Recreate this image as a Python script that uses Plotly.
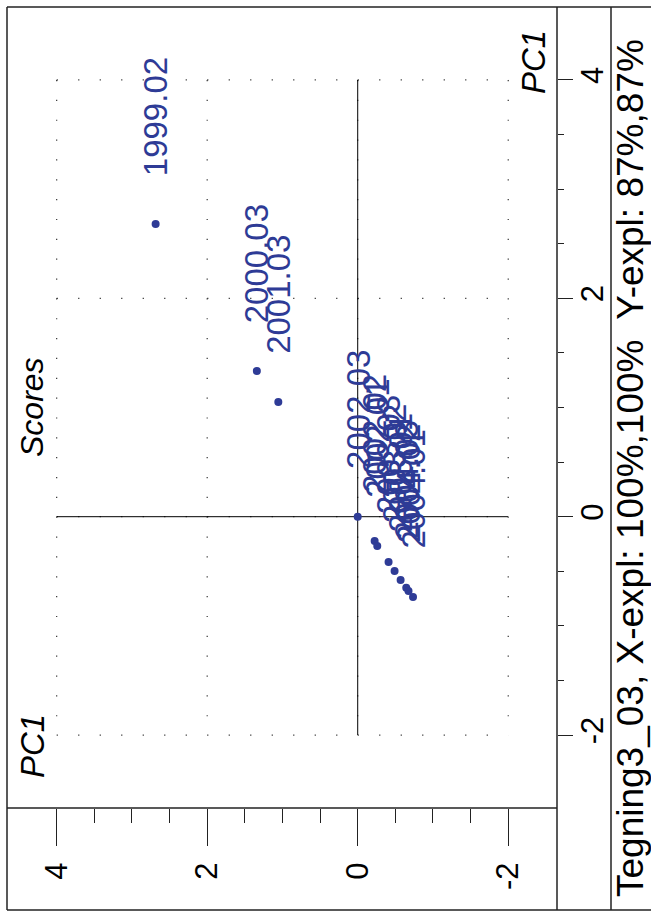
import plotly.graph_objects as go

# ---------------- data ----------------
sample_labels = ["1999.02", "2000.03", "2001.03", "2002.03",
                 "2002.02", "2002.01", "2003.03", "2003.02",
                 "2003.01", "2004.03", "2004.02", "2004.01"]
pc1_x = [2.685, 1.34, 1.055, 0.0,
         -0.225, -0.26, -0.41, -0.49, -0.57, -0.645, -0.675, -0.735]
pc1_y = [2.68, 1.335, 1.05, 0.0,
         -0.222, -0.268, -0.415, -0.497, -0.58, -0.65, -0.68, -0.735]

major_ticks = [4, 2, 0, -2]
major_text = ["4", "2", "0", "-2"]
minor_ticks = [3.5, 3, 2.5, 1.5, 1, 0.5, -0.5, -1, -1.5]

title_text = "Tegning3_03, X-expl: 100%,100%  Y-expl: 87%,87%"
axis_name = "PC1"
plot_name = "Scores"

BLUE = "#2E3B96"
LINE = "#222222"
FONT = "Liberation Sans, Arial, sans-serif"

# plot area in pixels
W, H = 651, 911
L, R, T, B = 7, 557, 7, 808


def px2paper_x(px):
    return (px - L) / (R - L)


def px2paper_y(py):
    return (B - py) / (B - T)


fig = go.Figure()
fig.add_trace(go.Scatter(
    x=pc1_x, y=pc1_y, mode="markers",
    marker=dict(size=8, color=BLUE, line=dict(width=0)),
    hoverinfo="skip", showlegend=False))

shapes = []
# dotted grid (only between -2 and 4)
lo, hi = min(major_ticks), max(major_ticks)
for v in major_ticks:
    shapes.append(dict(type="line", xref="x", yref="y", x0=hi, x1=lo, y0=v, y1=v,
                       line=dict(color="#333", width=1.2, dash="1.2px,20.3px"), layer="below"))
    shapes.append(dict(type="line", xref="x", yref="y", x0=v, x1=v, y0=hi, y1=lo,
                       line=dict(color="#333", width=1.2, dash="1.2px,18.65px"), layer="below"))
# solid cross at zero
shapes.append(dict(type="line", xref="x", yref="y", x0=hi, x1=lo, y0=0, y1=0,
                   line=dict(color="black", width=1), layer="below"))
shapes.append(dict(type="line", xref="x", yref="y", x0=0, x1=0, y0=hi, y1=lo,
                   line=dict(color="black", width=1), layer="below"))

# frame lines (paper coords)
yb = px2paper_y(910)
xr = px2paper_x(652)
frame = [
    (0, 1, xr, 1),          # top
    (0, yb, 0, 1),          # left
    (0, yb, xr, yb),        # bottom
    (1, yb, 1, 1),          # right axis line
    (px2paper_x(611), yb, px2paper_x(611), 1),  # title strip separator
    (0, 0, 1, 0),           # bottom axis line
]
for x0, y0, x1, y1 in frame:
    shapes.append(dict(type="line", xref="paper", yref="paper", x0=x0, y0=y0, x1=x1, y1=y1,
                       line=dict(color=LINE, width=1.5)))

annotations = []
for lab, xv, yv in zip(sample_labels, pc1_x, pc1_y):
    annotations.append(dict(x=xv, y=yv, xref="x", yref="y", text=lab, showarrow=False,
                            textangle=-90, xanchor="center", yanchor="bottom", yshift=46,
                            font=dict(family=FONT, size=33, color=BLUE)))


def side_text(px, py, text, size, italic):
    f = dict(family=FONT, size=size, color="black")
    if italic:
        f["style"] = "italic"
    return dict(x=px2paper_x(px), y=px2paper_y(py), xref="paper", yref="paper",
                text=text, showarrow=False, textangle=-90,
                xanchor="center", yanchor="middle", font=f)


annotations.append(side_text(534, 62, axis_name, 33, True))
annotations.append(side_text(32, 746, axis_name, 33, True))
annotations.append(side_text(32, 407, plot_name, 32, True))
annotations.append(side_text(630, 468, title_text, 37, False))

fig.update_layout(
    width=W, height=H,
    margin=dict(l=L, r=W - R, t=T, b=H - B, pad=0, autoexpand=False),
    paper_bgcolor="white", plot_bgcolor="white",
    showlegend=False,
    shapes=shapes, annotations=annotations,
    font=dict(family=FONT, color="black"),
    xaxis=dict(range=[4.66, -2.648], tickmode="array", tickvals=major_ticks, ticktext=major_text,
               ticks="outside", ticklen=37, tickwidth=1.3, tickcolor=LINE,
               tickangle=-90, tickfont=dict(size=31, family=FONT, color="black"),
               ticklabelstandoff=4,
               minor=dict(tickmode="array", tickvals=minor_ticks, ticks="outside",
                          ticklen=14, tickwidth=1.3, tickcolor=LINE),
               showgrid=False, zeroline=False, showline=False, fixedrange=True,
               automargin=False),
    yaxis=dict(range=[-2.668, 4.668], side="right", tickmode="array", tickvals=major_ticks,
               ticktext=major_text, ticks="outside", ticklen=15, tickwidth=1.3, tickcolor=LINE,
               tickangle=-90, tickfont=dict(size=31, family=FONT, color="black"),
               ticklabelstandoff=-7,
               minor=dict(tickmode="array", tickvals=minor_ticks, ticks="outside",
                          ticklen=6, tickwidth=1.3, tickcolor=LINE),
               showgrid=False, zeroline=False, showline=False, fixedrange=True,
               automargin=False),
)

fig.write_html("out.html", config={"displayModeBar": False},
               post_script="document.body.style.margin='0';document.body.style.padding='0';")
